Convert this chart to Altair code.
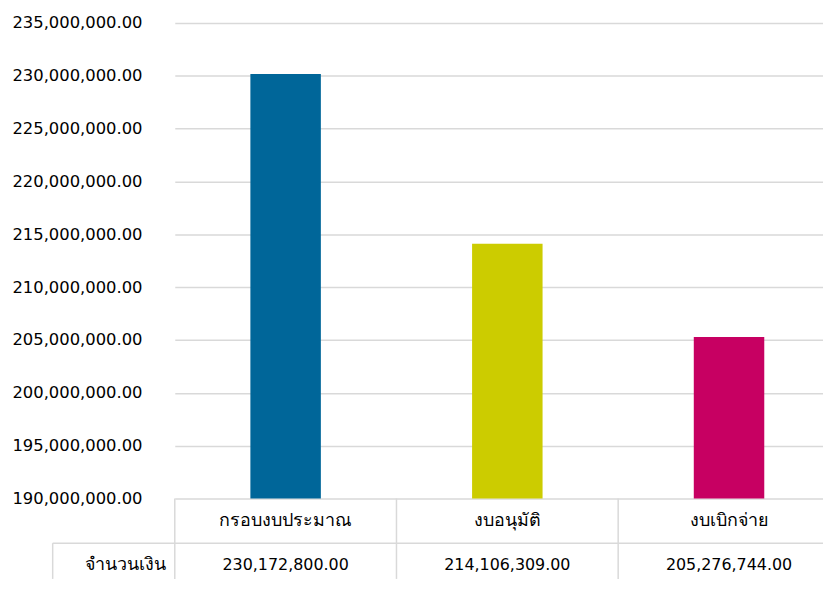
import altair as alt
import pandas as pd

CATEGORIES = ["กรอบงบประมาณ", "งบอนุมัติ", "งบเบิกจ่าย"]
VALUES = [230172800, 214106309, 205276744]
COLORS = ["#006699", "#CCCC00", "#C70062"]
ROW_LABEL = ["จำนวนเงิน"]
Y_MIN, Y_MAX, Y_STEP = 190_000_000, 235_000_000, 5_000_000
Y_TICKS = list(range(Y_MIN, Y_MAX + 1, Y_STEP))

W, H = 653, 479
FONT = "DejaVu Sans"
LINE = "#d9d9d9"

df = pd.DataFrame({"cat": CATEGORIES, "value": VALUES, "color": COLORS, "base": [Y_MIN] * 3})
lab = pd.DataFrame({"label": ROW_LABEL})

xscale = alt.Scale(range=[0, 670], paddingInner=0, paddingOuter=0)
x = alt.X("cat:N", sort=CATEGORIES, axis=None, scale=xscale)

bars = alt.Chart(df).mark_bar(size=71).encode(
    x=x,
    y=alt.Y(
        "value:Q",
        scale=alt.Scale(domain=[Y_MIN, Y_MAX], zero=False, nice=False),
        axis=alt.Axis(
            values=Y_TICKS, format=",.2f", title=None, ticks=False, domain=False,
            labelPadding=33, labelFontSize=16.5, labelColor="#000000", labelFont=FONT,
            gridColor=LINE, gridWidth=1.5,
        ),
    ),
    y2=alt.Y2("base:Q"),
    color=alt.Color("color:N", scale=None),
)

cat_text = alt.Chart(df).mark_text(fontSize=18, font=FONT, color="#000000", baseline="middle").encode(
    x=x, y=alt.value(H + 23), text="cat:N"
)
val_text = alt.Chart(df).mark_text(fontSize=16, font=FONT, color="#000000", baseline="middle").encode(
    x=x, y=alt.value(H + 67), text=alt.Text("value:Q", format=",.2f")
)
row_text = alt.Chart(lab).mark_text(fontSize=18, font=FONT, color="#000000", baseline="middle", align="right").encode(
    x=alt.value(-9), y=alt.value(H + 67), text="label:N"
)

vlines = alt.Chart(df).mark_rule(color=LINE, strokeWidth=1.5).encode(
    x=alt.X("cat:N", sort=CATEGORIES, axis=None, scale=xscale, bandPosition=0),
    y=alt.value(H), y2=alt.value(H + 81),
)
hline = alt.Chart(lab).mark_rule(color=LINE, strokeWidth=1.5).encode(
    x=alt.value(-123), x2=alt.value(W), y=alt.value(H + 45)
)
lline = alt.Chart(lab).mark_rule(color=LINE, strokeWidth=1.5).encode(
    x=alt.value(-123), y=alt.value(H + 45), y2=alt.value(H + 81)
)

chart = alt.layer(bars, vlines, hline, lline, cat_text, val_text, row_text).properties(
    width=W, height=H,
    autosize=alt.AutoSizeParams(type="none"),
    padding={"left": 168, "top": 13, "right": 0, "bottom": 81},
).configure_view(stroke=None)

chart.save("out.html", embed_options={"renderer": "svg", "actions": False})
